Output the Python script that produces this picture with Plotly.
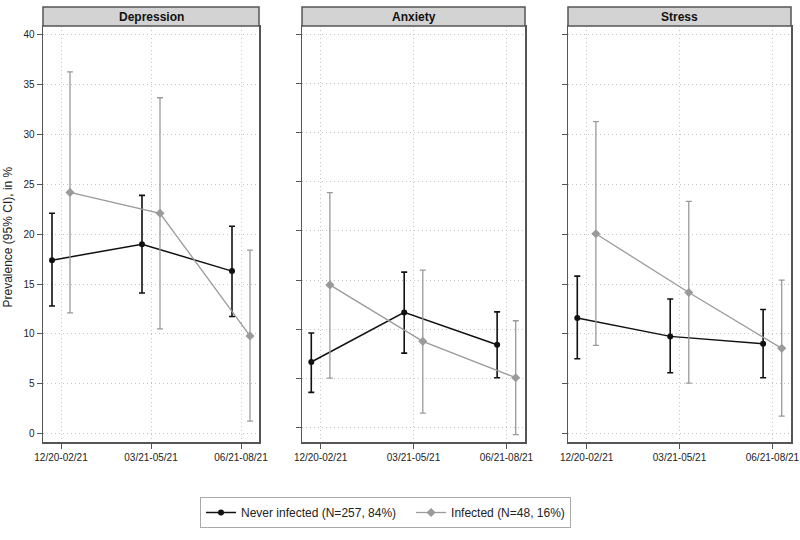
import plotly.graph_objects as go

periods = ["12/20-02/21", "03/21-05/21", "06/21-08/21"]
panels = ["Depression", "Anxiety", "Stress"]

# Never infected
never_est = {"Depression": [17.4, 19.0, 16.3], "Anxiety": [6.65, 11.7, 8.4], "Stress": [11.6, 9.75, 9.0]}
never_hi = {"Depression": [22.1, 23.9, 20.8], "Anxiety": [9.6, 15.8, 11.75], "Stress": [15.8, 13.5, 12.45]}
never_lo = {"Depression": [12.8, 14.1, 11.75], "Anxiety": [3.55, 7.55, 5.05], "Stress": [7.5, 6.1, 5.6]}
# Infected
inf_est = {"Depression": [24.2, 22.1, 9.8], "Anxiety": [14.5, 8.75, 5.05], "Stress": [20.05, 14.15, 8.55]}
inf_hi = {"Depression": [36.3, 33.7, 18.4], "Anxiety": [23.9, 16.0, 10.85], "Stress": [31.3, 23.3, 15.4]}
inf_lo = {"Depression": [12.1, 10.5, 1.25], "Anxiety": [5.0, 1.45, -0.75], "Stress": [8.85, 5.05, 1.75]}

legend_names = ["Never infected (N=257, 84%)\u00a0\u00a0\u00a0", "Infected (N=48, 16%)"]
y_ticks = [0, 5, 10, 15, 20, 25, 30, 35, 40]
y_title = "Prevalence (95% CI), in %"

FONT = "Liberation Sans Narrow, Arial Narrow, Liberation Sans, Arial, sans-serif"
W, H = 800, 540
px_domains = [(43, 259), (302, 525), (568, 791)]
y_top_px, y_bot_px = 26, 442
y_ranges = [(-0.85, 40.9), (-1.5, 40.87), (-0.85, 40.9)]
BLACK = "#111111"
GRAY = "#9a9a9a"
FRAME = "#555555"
GRID = "#c4c4c4"

fig = go.Figure()
x_base = [1, 2, 3]
off = 0.1

for i, p in enumerate(panels):
    ax = "" if i == 0 else str(i + 1)
    xref, yref = "x" + ax, "y" + ax
    fig.add_trace(go.Scatter(
        x=[v - off for v in x_base], y=never_est[p],
        error_y=dict(type="data", symmetric=False,
                     array=[h - e for h, e in zip(never_hi[p], never_est[p])],
                     arrayminus=[e - l for e, l in zip(never_est[p], never_lo[p])],
                     color=BLACK, thickness=1.6, width=3),
        mode="lines+markers", line=dict(color=BLACK, width=1.5),
        marker=dict(color=BLACK, size=6, symbol="circle"),
        name=legend_names[0], legendgroup="never", showlegend=(i == 0),
        xaxis=xref, yaxis=yref))
    fig.add_trace(go.Scatter(
        x=[v + off for v in x_base], y=inf_est[p],
        error_y=dict(type="data", symmetric=False,
                     array=[h - e for h, e in zip(inf_hi[p], inf_est[p])],
                     arrayminus=[e - l for e, l in zip(inf_est[p], inf_lo[p])],
                     color=GRAY, thickness=1.3, width=3),
        mode="lines+markers", line=dict(color=GRAY, width=1.3),
        marker=dict(color=GRAY, size=7, symbol="diamond"),
        name=legend_names[1], legendgroup="inf", showlegend=(i == 0),
        xaxis=xref, yaxis=yref))

layout = dict(
    width=W, height=H,
    margin=dict(l=0, r=0, t=0, b=0, autoexpand=False),
    paper_bgcolor="white", plot_bgcolor="white",
    font=dict(family=FONT, size=10, color="#222222"),
    showlegend=True,
    legend=dict(orientation="h", x=200 / W, xanchor="left", y=1 - 497 / H, yanchor="top",
                bordercolor="#aaaaaa", borderwidth=1, font=dict(size=12, family=FONT, color="#222222"),
                traceorder="normal"),
)
shapes = []
annotations = []
for i, p in enumerate(panels):
    ax = "" if i == 0 else str(i + 1)
    x0, x1 = px_domains[i]
    layout["xaxis" + ax] = dict(
        domain=[x0 / W, x1 / W], range=[0.8, 3.2],
        tickmode="array", tickvals=x_base, ticktext=periods,
        ticks="outside", ticklen=5, tickcolor=FRAME,
        showgrid=True, gridcolor=GRID, griddash="1px,3px", gridwidth=1,
        showline=True, linecolor=FRAME, linewidth=1.5, mirror=True,
        zeroline=False, anchor="y" + ax, tickfont=dict(size=10, family=FONT),
        automargin=False, fixedrange=True)
    layout["yaxis" + ax] = dict(
        domain=[1 - y_bot_px / H, 1 - y_top_px / H], range=list(y_ranges[i]),
        tickmode="array", tickvals=y_ticks,
        showticklabels=(i == 0),
        ticks="outside", ticklen=5, tickcolor=FRAME,
        showgrid=True, gridcolor=GRID, griddash="1px,3px", gridwidth=1,
        showline=True, linecolor=FRAME, linewidth=1.5, mirror=True,
        zeroline=False, anchor="x" + ax, tickfont=dict(size=10, family=FONT),
        automargin=False, fixedrange=True)
    shapes.append(dict(type="rect", xref="paper", yref="paper",
                       x0=x0 / W, x1=x1 / W, y0=1 - y_top_px / H, y1=1 - 7 / H,
                       fillcolor="#d3d3d3", line=dict(color=FRAME, width=1.5), layer="above"))
    annotations.append(dict(text="<b>" + p + "</b>", xref="paper", yref="paper",
                            x=(x0 + x1) / 2 / W, y=1 - 16.5 / H, showarrow=False,
                            xanchor="center", yanchor="middle",
                            font=dict(size=12, family=FONT, color="#111111")))
annotations.append(dict(text=y_title, xref="paper", yref="paper",
                        x=7.5 / W, y=1 - 237 / H, showarrow=False, textangle=-90,
                        xanchor="center", yanchor="middle",
                        font=dict(size=12, family=FONT, color="#222222")))
layout["shapes"] = shapes
layout["annotations"] = annotations
fig.update_layout(**layout)

fig.write_html("out.html", config={"displayModeBar": False, "staticPlot": True},
               post_script="document.body.style.margin='0';document.body.style.padding='0';")
